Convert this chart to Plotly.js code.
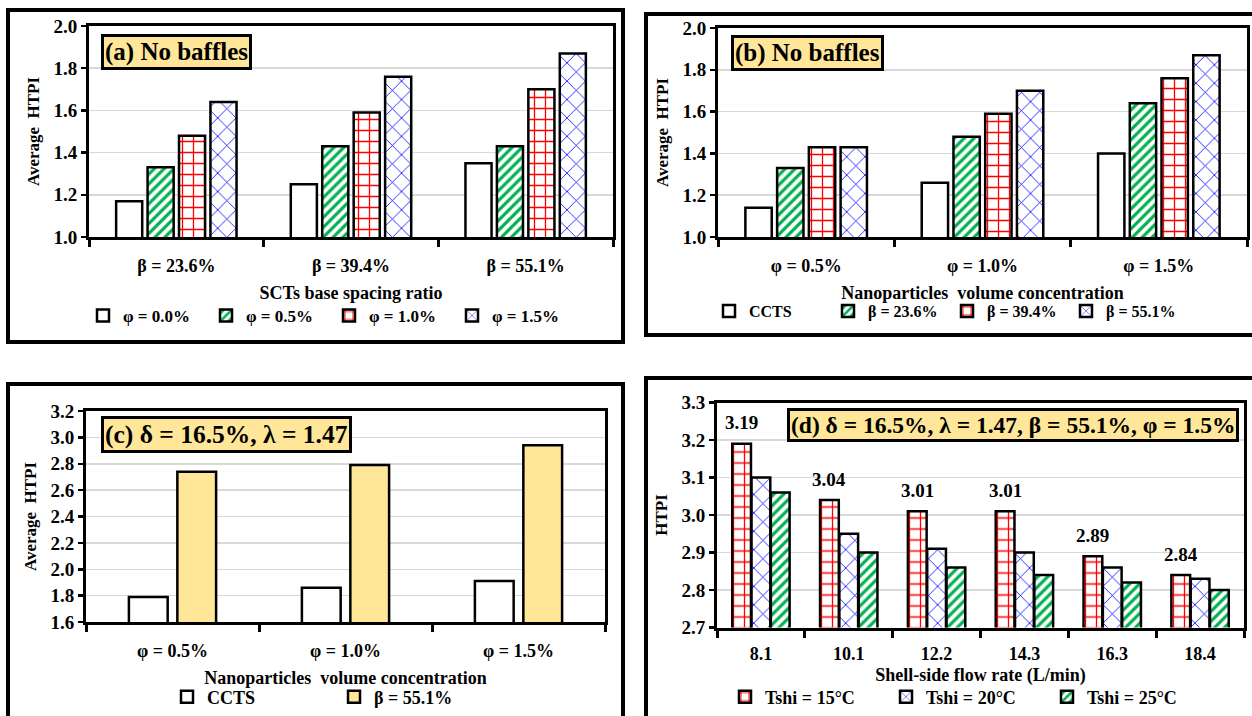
<!DOCTYPE html>
<html><head><meta charset="utf-8">
<script src="https://cdn.plot.ly/plotly-3.0.1.min.js"></script>
<style>
html,body{margin:0;padding:0;background:#fff;}
#wrap{position:relative;width:1252px;height:716px;overflow:hidden;background:#fff;}
.p{position:absolute;left:0;top:0;width:1252px;height:716px;}
</style></head><body>
<div id="wrap"><div id="pa" class="p"></div><div id="pb" class="p"></div><div id="pc" class="p"></div><div id="pd" class="p"></div></div>
<script>
// ---------- DATA ----------
// (a) No baffles, grouped by SCTs base spacing ratio
const aCats = ['β = 23.6%', 'β = 39.4%', 'β = 55.1%'];
const aNames = ['φ = 0.0%', 'φ = 0.5%', 'φ = 1.0%', 'φ = 1.5%'];
const aPhi00 = [1.17, 1.25, 1.35];
const aPhi05 = [1.33, 1.43, 1.43];
const aPhi10 = [1.48, 1.59, 1.70];
const aPhi15 = [1.64, 1.76, 1.87];
// (b) No baffles, grouped by nanoparticle volume concentration
const bCats = ['φ = 0.5%', 'φ = 1.0%', 'φ = 1.5%'];
const bNames = ['CCTS', 'β = 23.6%', 'β = 39.4%', 'β = 55.1%'];
const bCCTS = [1.14, 1.26, 1.40];
const bB236 = [1.33, 1.48, 1.64];
const bB394 = [1.43, 1.59, 1.76];
const bB551 = [1.43, 1.70, 1.87];
// (c) delta = 16.5%, lambda = 1.47
const cCats = ['φ = 0.5%', 'φ = 1.0%', 'φ = 1.5%'];
const cNames = ['CCTS', 'β = 55.1%'];
const cCCTS = [1.79, 1.86, 1.91];
const cB551 = [2.74, 2.79, 2.94];
// (d) HTPI vs shell-side flow rate
const dCats = ['8.1', '10.1', '12.2', '14.3', '16.3', '18.4'];
const dNames = ['Tshi = 15°C', 'Tshi = 20°C', 'Tshi = 25°C'];
const dT15 = [3.19, 3.04, 3.01, 3.01, 2.89, 2.84];
const dT20 = [3.10, 2.95, 2.91, 2.90, 2.86, 2.83];
const dT25 = [3.06, 2.90, 2.86, 2.84, 2.82, 2.80];

// ---------- STYLE ----------
const W = 1252, H = 716;
const X = p => p / W;
const Y = p => 1 - p / H;
const FAM = 'Liberation Serif, Times New Roman, serif';
const f = (s) => ({family: FAM, size: s, color: '#000', weight: 'bold'});
const outline = {color: '#000', width: 2.5};
const pat = (shape, c, size, sol) => ({shape: shape, fgcolor: c, bgcolor: '#ffffff', size: size, solidity: sol, fillmode: 'overlay', fgopacity: 1});
const stPlain = {color: '#ffffff', line: outline};
const stGreen = {color: '#ffffff', line: outline, pattern: pat('/', '#00B050', 7, 0.45)};
const stRed = {color: '#ffffff', line: outline, pattern: pat('+', '#FF0000', 11, 0.22)};
const stBlue = {color: '#ffffff', line: outline, pattern: pat('x', '#0000FF', 13, 0.12)};
const stYellow = {color: '#FFE699', line: outline};

function bar(name, cats, vals, marker) {
  return {type: 'bar', name: name, x: cats, y: vals, marker: marker, hoverinfo: 'skip'};
}

function layout(o) {
  return {
    width: W, height: H, margin: {l: 0, r: 0, t: 0, b: 0, autoexpand: false},
    paper_bgcolor: 'rgba(0,0,0,0)', plot_bgcolor: '#ffffff',
    barmode: 'group', bargap: o.bargap, bargroupgap: o.bgg,
    showlegend: true,
    legend: Object.assign({orientation: 'h', xanchor: 'left', yanchor: 'middle', font: f(o.lf || 16),
      bgcolor: 'rgba(0,0,0,0)', traceorder: 'normal', itemwidth: 30}, o.legend),
    xaxis: {domain: [X(o.x0), X(o.x1)], type: 'category', showline: true, linecolor: '#000', linewidth: 3,
      mirror: true, ticks: 'outside', tickson: 'boundaries', ticklen: 7, tickwidth: 3, tickcolor: '#000',
      tickfont: f(18), ticklabelstandoff: o.xstand, showgrid: false, automargin: false, fixedrange: true,
      title: {text: o.xt, font: f(18), standoff: o.xtst}},
    yaxis: {domain: [Y(o.y1), Y(o.y0)], range: o.yr, dtick: o.dt, tickformat: '.1f', showline: true,
      linecolor: '#000', linewidth: 3, mirror: true, ticks: 'outside', ticklen: 5, tickwidth: 2.5, tickcolor: '#000',
      tickfont: f(19), showgrid: true, gridcolor: '#D9D9D9', gridwidth: 1.5, zeroline: false,
      automargin: false, fixedrange: true, title: {text: o.yt, font: f(17), standoff: o.ytst}},
    shapes: [{type: 'rect', xref: 'paper', yref: 'paper', x0: X(o.fr[0]), x1: X(o.fr[2]), y0: Y(o.fr[3]), y1: Y(o.fr[1]),
      line: {color: '#000', width: 4}, layer: 'above'}],
    annotations: [{xref: 'paper', yref: 'paper', x: X(o.cb[0]), y: Y(o.cb[1]), xanchor: 'left', yanchor: 'top',
      text: o.cbt, showarrow: false, font: f(o.cbs), bgcolor: '#FFE699', bordercolor: '#000', borderwidth: 3, borderpad: 1}]
  };
}
const cfg = {staticPlot: true, displayModeBar: false};

// (a)
Plotly.newPlot('pa', [
  bar(aNames[0], aCats, aPhi00, stPlain), bar(aNames[1], aCats, aPhi05, stGreen),
  bar(aNames[2], aCats, aPhi10, stRed), bar(aNames[3], aCats, aPhi15, stBlue)
], layout({x0: 89, x1: 613, y0: 26, y1: 237, yr: [1, 2], dt: 0.2, bargap: 0.28, bgg: 0.17,
  xt: 'SCTs base spacing ratio', yt: 'Average  HTPI', xstand: 10, xtst: 12, ytst: 10,
  fr: [8, 10, 623, 342], cb: [101, 34], cbt: '(a) No baffles', cbs: 25, lf: 17,
  legend: {x: X(83), y: Y(316), entrywidth: 78}}), cfg);

// (b)
Plotly.newPlot('pb', [
  bar(bNames[0], bCats, bCCTS, stPlain), bar(bNames[1], bCats, bB236, stGreen),
  bar(bNames[2], bCats, bB394, stRed), bar(bNames[3], bCats, bB551, stBlue)
], layout({x0: 718, x1: 1247, y0: 28, y1: 237, yr: [1, 2], dt: 0.2, bargap: 0.28, bgg: 0.17,
  xt: 'Nanoparticles  volume concentration', yt: 'Average  HTPI', xstand: 10, xtst: 12, ytst: 10,
  fr: [646, 14, 1262, 335], cb: [731, 35], cbt: '(b) No baffles', cbs: 25,
  legend: {x: X(709), y: Y(311), entrywidth: 74}}), cfg);

// (c)
Plotly.newPlot('pc', [
  bar(cNames[0], cCats, cCCTS, stPlain), bar(cNames[1], cCats, cB551, stYellow)
], layout({x0: 86, x1: 605, y0: 411, y1: 622, yr: [1.6, 3.2], dt: 0.2, bargap: 0.44, bgg: 0.2,
  xt: 'Nanoparticles  volume concentration', yt: 'Average  HTPI', xstand: 10, xtst: 12, ytst: 10,
  fr: [8, 384, 623, 726], cb: [101, 416], cbt: '(c) δ = 16.5%, λ = 1.47', cbs: 25.5, lf: 18,
  legend: {x: X(167), y: Y(697), entrywidth: 122}}), cfg);

// (d)
const dGap = 0.34;
const dLay = layout({x0: 717, x1: 1244, y0: 402.5, y1: 627.5, yr: [2.7, 3.3], dt: 0.1, bargap: dGap, bgg: 0.03,
  xt: 'Shell-side flow rate (L/min)', yt: 'HTPI', xstand: 8, xtst: 6, ytst: 10,
  fr: [646, 378, 1262, 726], cb: [787, 408], cbt: '(d) δ = 16.5%, λ = 1.47, β = 55.1%, φ = 1.5%', cbs: 23.5, lf: 18,
  legend: {x: X(725), y: Y(697), entrywidth: 116}});
const dSlot = (1244 - 717) / dCats.length * (1 - dGap) / 3;
dCats.forEach((c, i) => {
  dLay.annotations.push({xref: 'x', yref: 'y', x: i, y: dT15[i], text: dT15[i].toFixed(2), showarrow: false,
    xshift: -dSlot, yshift: 21, yanchor: 'middle', font: f(19)});
});
Plotly.newPlot('pd', [
  bar(dNames[0], dCats, dT15, stRed), bar(dNames[1], dCats, dT20, stBlue), bar(dNames[2], dCats, dT25, stGreen)
], dLay, cfg);
</script></body></html>
